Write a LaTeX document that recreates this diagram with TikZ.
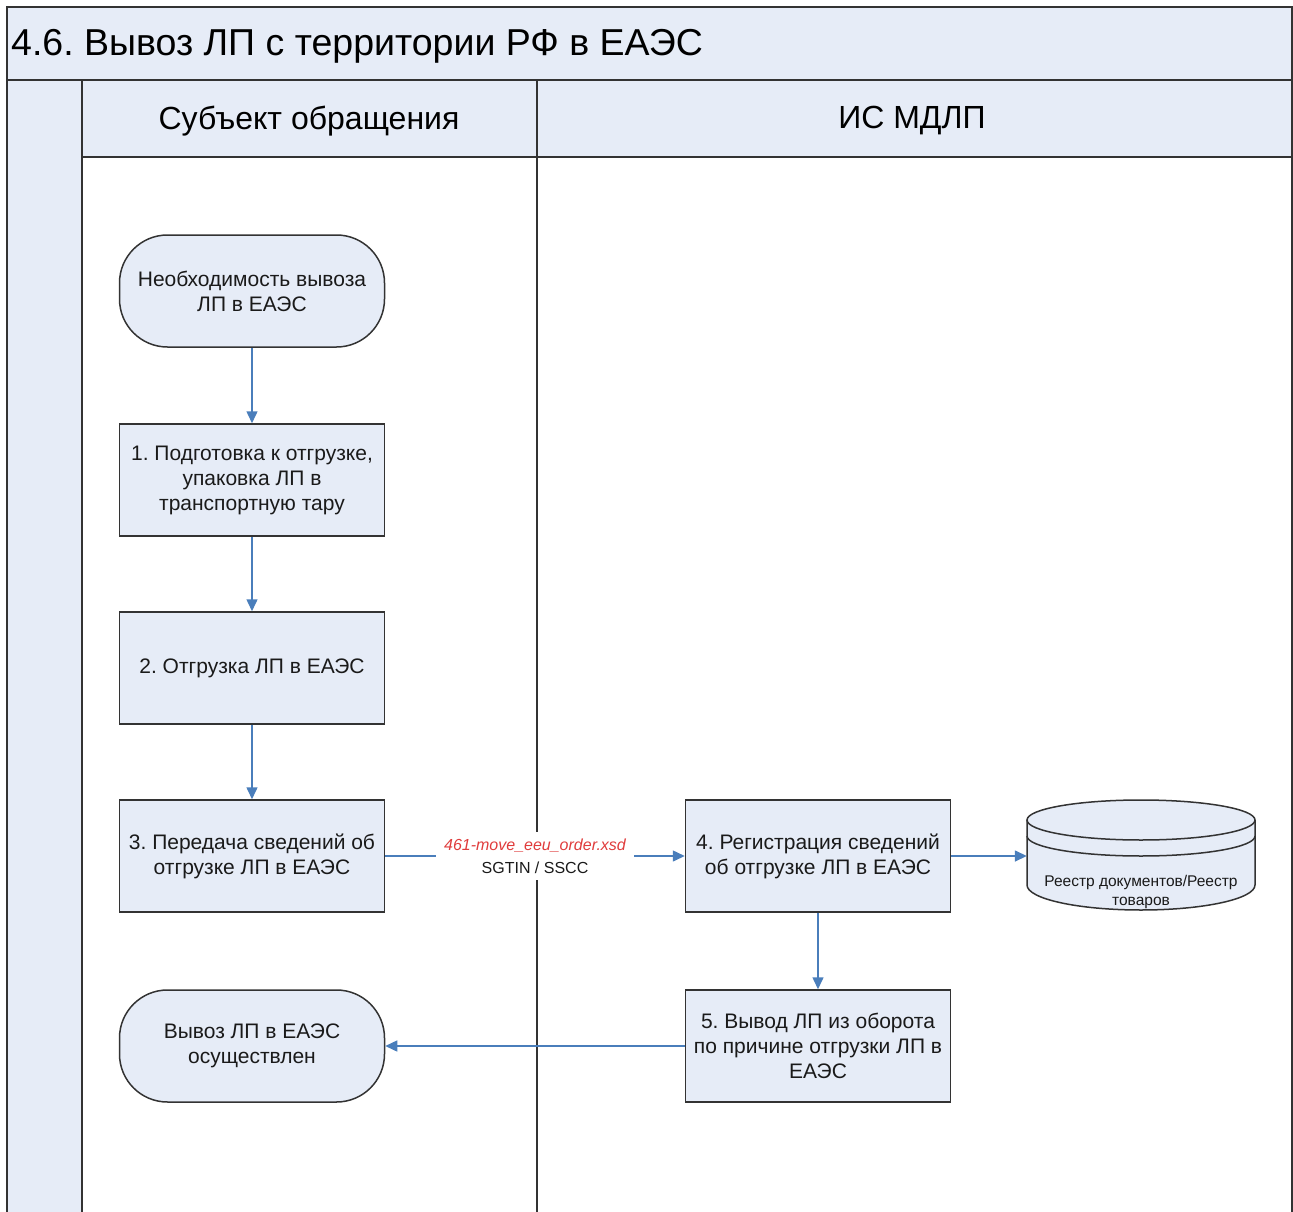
\documentclass[tikz,border=0pt]{standalone}
\usepackage{fontspec}
\setmainfont{Liberation Sans}
\usetikzlibrary{arrows.meta}
\definecolor{lanefill}{HTML}{E6ECF7}
\definecolor{flowblue}{HTML}{4A7EBB}
\definecolor{linegray}{HTML}{333333}
\definecolor{xsdred}{HTML}{E03C3C}
\definecolor{txt}{HTML}{1A1A1A}
\frenchspacing
\begin{document}
\begin{tikzpicture}[x=1pt,y=-1pt,
  procbox/.style={draw=linegray, line width=1.5pt, fill=lanefill, minimum width=265pt, minimum height=112pt, align=center, font=\fontsize{21}{25}\selectfont, text=txt, inner sep=0pt},
  termbox/.style={procbox, rounded corners=48pt},
  flow/.style={draw=flowblue, line width=1.5pt, -{Triangle[length=12pt,width=11pt]}},
  frameline/.style={draw=linegray, line width=2pt},
  dbline/.style={draw=linegray, line width=1.5pt},
  msglabel/.style={fill=white, align=center, inner xsep=8pt, inner ysep=7pt, font=\fontsize{16}{23}\selectfont, text=txt}]
\useasboundingbox (0,0) rectangle (1293,1212);
% swimlane frame
\fill[lanefill] (7,7) rectangle (1292,80);
\fill[lanefill] (7,80) rectangle (82,1212);
\fill[lanefill] (82,80) rectangle (1292,157);
\draw[frameline] (7,1212) -- (7,7) -- (1292,7) -- (1292,1212);
\draw[frameline] (7,80) -- (1292,80);
\draw[frameline] (82,157) -- (1292,157);
\draw[frameline] (82,80) -- (82,1212);
\draw[frameline] (537,80) -- (537,1212);
\node[anchor=west, font=\fontsize{37.5}{45}\selectfont, inner sep=0pt] (title) at (11,46) {4.6. Вывоз ЛП с территории РФ в ЕАЭС};
\node[font=\fontsize{32}{38}\selectfont, inner sep=0pt] (lane1) at (309,121) {Субъект обращения};
\node[font=\fontsize{32}{38}\selectfont, inner sep=0pt] (lane2) at (912,121) {ИС МДЛП};
% nodes
\node[termbox] (start) at (252,291) {Необходимость вывоза\\ЛП в ЕАЭС};
\node[procbox] (p1) at (252,480) {1. Подготовка к отгрузке,\\упаковка ЛП в\\транспортную тару};
\node[procbox] (p2) at (252,668) {2. Отгрузка ЛП в ЕАЭС};
\node[procbox] (p3) at (252,856) {3. Передача сведений об\\отгрузке ЛП в ЕАЭС};
\node[termbox] (end) at (252,1046) {Вывоз ЛП в ЕАЭС\\осуществлен};
\node[procbox] (p4) at (818,856) {4. Регистрация сведений\\об отгрузке ЛП в ЕАЭС};
\node[procbox] (p5) at (818,1046) {5. Вывод ЛП из оборота\\по причине отгрузки ЛП в\\ЕАЭС};
% database cylinder
\fill[lanefill] (1027,820) -- (1027,885) arc[start angle=180, end angle=360, x radius=114pt, y radius=25pt] -- (1255,820) -- cycle;
\fill[lanefill] (1141,820) ellipse [x radius=114pt, y radius=20pt];
\draw[dbline] (1027,820) -- (1027,885) arc[start angle=180, end angle=360, x radius=114pt, y radius=25pt] -- (1255,820);
\draw[dbline] (1141,820) ellipse [x radius=114pt, y radius=20pt];
\draw[dbline] (1027,836) arc[start angle=180, end angle=360, x radius=114pt, y radius=20pt];
\node[minimum width=228pt, minimum height=110pt, inner sep=0pt] (db) at (1141,856) {};
\node[font=\fontsize{15.5}{19}\selectfont, text=txt, align=center, inner sep=0pt] (dbtext) at (1141,892) {Реестр документов/Реестр\\товаров};
% connectors
\draw[flow] (start) -- (p1);
\draw[flow] (p1) -- (p2);
\draw[flow] (p2) -- (p3);
\draw[flow] (p3) -- (p4);
\path (p3) -- node[msglabel] (msg) {\textcolor{xsdred}{\itshape 461-move\_eeu\_order.xsd}\\SGTIN / SSCC} (p4);
\draw[flow] (p4) -- (db);
\draw[flow] (p4) -- (p5);
\draw[flow] (p5) -- (end);
\end{tikzpicture}
\end{document}
